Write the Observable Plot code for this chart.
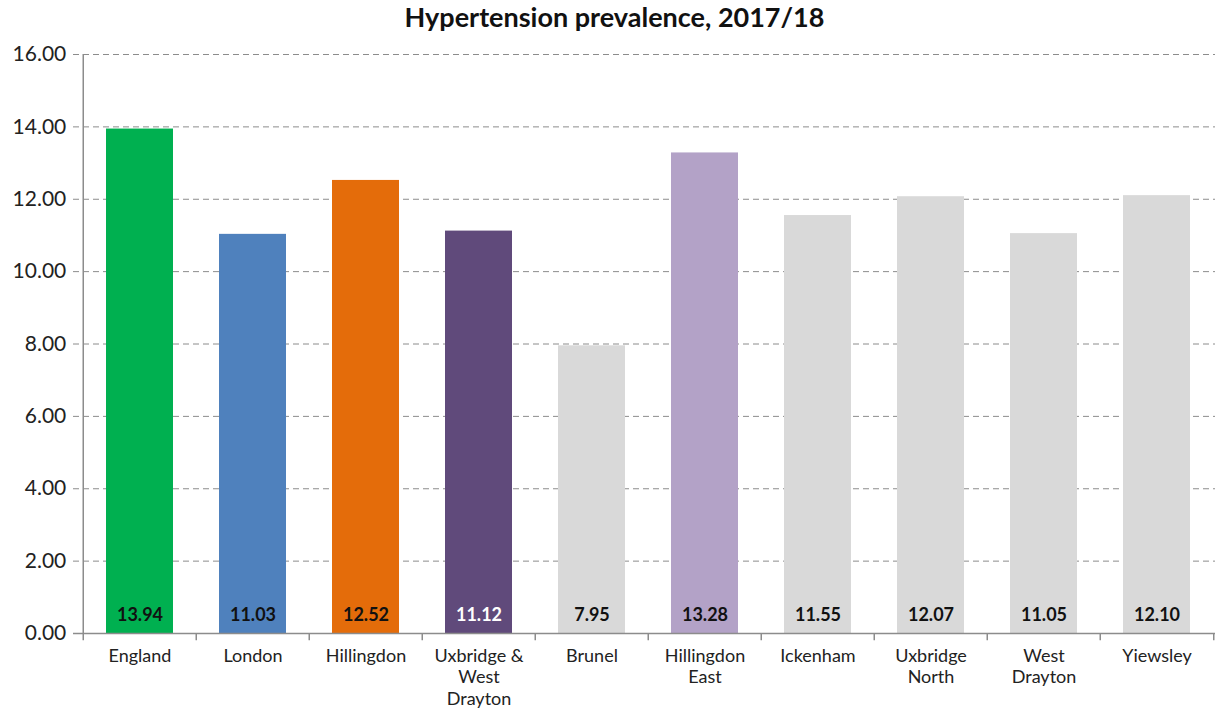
<!DOCTYPE html>
<html>
<head>
<meta charset="utf-8">
<script src="https://cdn.jsdelivr.net/npm/d3@7"></script>
<script src="https://cdn.jsdelivr.net/npm/@observablehq/plot@0.6"></script>
<style>
  body { margin: 0; background: #fff; font-family: Lato, "Open Sans", sans-serif; overflow: hidden; }
  #title { height: 36px; line-height: 34px; text-align: center; font-weight: bold; font-size: 27px; color: #111; padding-left: 12px; }
</style>
</head>
<body>
<div id="title">Hypertension prevalence, 2017/18</div>
<div id="chart"></div>
<script>
const categories = ["England", "London", "Hillingdon", "Uxbridge & West Drayton", "Brunel", "Hillingdon East", "Ickenham", "Uxbridge North", "West Drayton", "Yiewsley"];
const tickLabels = ["England", "London", "Hillingdon", "Uxbridge &\nWest\nDrayton", "Brunel", "Hillingdon\nEast", "Ickenham", "Uxbridge\nNorth", "West\nDrayton", "Yiewsley"];
const values = [13.94, 11.03, 12.52, 11.12, 7.95, 13.28, 11.55, 12.07, 11.05, 12.10];
const barColors = ["#00b050", "#4f81bd", "#e46c0a", "#604a7b", "#d9d9d9", "#b3a2c7", "#d9d9d9", "#d9d9d9", "#d9d9d9", "#d9d9d9"];
const labelColors = ["#111", "#111", "#111", "#fff", "#111", "#111", "#111", "#111", "#111", "#111"];
const yTicks = [0, 2, 4, 6, 8, 10, 12, 14, 16];

const data = categories.map((c, i) => ({cat: c, label: tickLabels[i], value: values[i], color: barColors[i], lc: labelColors[i]}));

const W = 1217, H = 673, ML = 80, MR = 2;
const step = (W - ML - MR) / categories.length;

const chart = Plot.plot({
  width: W,
  height: H,
  marginLeft: ML,
  marginRight: MR,
  marginTop: 18,
  marginBottom: 76,
  style: {fontFamily: "Lato, 'Open Sans', sans-serif", background: "#fff", overflow: "visible"},
  x: {domain: categories, paddingInner: 0.41, paddingOuter: 0.205, align: 0.5, axis: null},
  y: {domain: [0, 16], ticks: yTicks, axis: null},
  marks: [
    Plot.ruleY(yTicks.filter(d => d > 0), {stroke: "#8c8c8c", strokeWidth: 1, strokeDasharray: "6,4", insetLeft: -7}),
    Plot.barY(data, {x: "cat", y: "value", fill: "color"}),
    Plot.ruleY([0], {stroke: "#8c8c8c", strokeWidth: 1.5, insetLeft: -7}),
    Plot.ruleX([0], {x: () => categories[0], y1: 0, y2: 16, dx: -step / 2, stroke: "#8c8c8c", strokeWidth: 1.5}),
    Plot.ruleX(categories, {y1: 0, y2: -0.2, dx: -step / 2, stroke: "#8c8c8c", strokeWidth: 1.5}),
    Plot.ruleX([categories[categories.length - 1]], {y1: 0, y2: -0.2, dx: step / 2, stroke: "#8c8c8c", strokeWidth: 1.5}),
    Plot.text(data, {x: "cat", y: 0, text: d => d.value.toFixed(2), fill: "lc", dy: -18, fontWeight: "bold", fontSize: 18}),
    Plot.text(data, {x: "cat", y: 0, text: "label", dy: 13, lineAnchor: "top", lineHeight: 1.2, fontSize: 18, fill: "#222"}),
    Plot.text(yTicks, {x: () => categories[0], y: d => d, text: d => d.toFixed(2), dx: -step / 2 - 17, textAnchor: "end", fontSize: 21, fill: "#222"})
  ]
});
document.getElementById("chart").appendChild(chart);
</script>
</body>
</html>
